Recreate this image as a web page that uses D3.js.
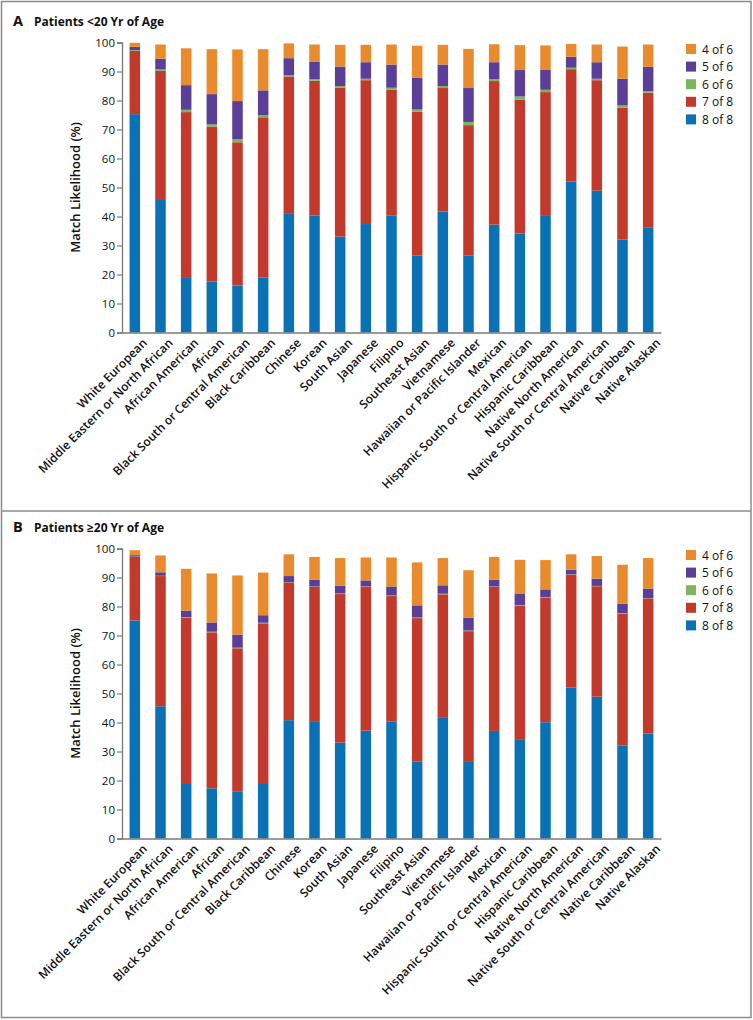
<!DOCTYPE html>
<html><head><meta charset="utf-8">
<script src="https://cdn.jsdelivr.net/npm/d3@7"></script>
<style>
html,body{margin:0;padding:0;background:#fff;}
svg{display:block;}
</style></head>
<body>
<svg id="chart" width="753" height="1020"></svg>
<script>
const categories = ["White European","Middle Eastern or North African","African American","African","Black South or Central American","Black Caribbean","Chinese","Korean","South Asian","Japanese","Filipino","Southeast Asian","Vietnamese","Hawaiian or Pacific Islander","Mexican","Hispanic South or Central American","Hispanic Caribbean","Native North American","Native South or Central American","Native Caribbean","Native Alaskan"];
const seriesNames = ["8 of 8","7 of 8","6 of 6","5 of 6","4 of 6"];
const seriesColors = ["#0a71b4","#c13a2b","#7db55e","#5b3e98","#e98b2d"];
const yTicks = [0,10,20,30,40,50,60,70,80,90,100];

// Panel A: patients <20 yr
const a8of8 = [75.3,45.7,19.1,17.6,16.2,18.9,40.9,40.3,33.1,37.4,40.4,26.6,41.7,26.5,37.2,34.1,40.2,52.1,48.9,32.1,36.3];
const a7of8 = [21.8,44.5,56.9,53.4,49.4,55.3,47.4,46.5,51.4,49.6,43.3,49.5,42.6,45.0,49.5,46.2,42.7,38.7,38.1,45.4,46.4];
const a6of6 = [0.3,0.5,0.8,0.8,1.0,0.7,0.4,0.6,0.5,0.5,0.7,0.8,0.7,1.1,0.7,1.1,0.8,0.5,0.5,0.8,0.5];
const a5of6 = [1.1,3.7,8.5,10.4,13.2,8.6,5.9,5.9,6.7,5.7,8.0,11.0,7.4,11.7,5.8,9.1,7.0,3.8,5.7,9.2,8.4];
const a4of6 = [1.4,4.9,12.7,15.5,17.8,14.2,5.1,6.0,7.5,6.0,6.9,11.0,6.8,13.5,6.2,8.6,8.3,4.4,6.1,11.1,7.7];

// Panel B: patients >=20 yr
const b8of8 = [75.2,45.6,18.8,17.3,16.1,18.8,40.8,40.2,33.1,37.2,40.4,26.5,41.6,26.4,37.1,34.0,40.1,52.1,48.9,32.0,36.2];
const b7of8 = [21.9,44.9,57.3,53.8,49.5,55.4,47.5,46.6,51.2,49.7,43.2,49.5,42.6,45.1,49.7,46.3,42.9,38.9,38.1,45.5,46.6];
const b6of6 = [0.1,0.1,0.2,0.2,0.2,0.2,0.1,0.1,0.2,0.1,0.2,0.2,0.2,0.2,0.1,0.2,0.2,0.1,0.1,0.2,0.1];
const b5of6 = [0.5,1.2,2.3,3.2,4.5,2.6,2.1,2.3,2.6,2.0,3.1,4.2,2.9,4.4,2.3,3.8,2.7,1.6,2.5,3.2,3.3];
const b4of6 = [1.7,5.8,14.4,16.9,20.4,14.7,7.5,7.9,9.6,7.9,10.0,14.8,9.4,16.4,7.9,11.8,10.1,5.3,7.8,13.5,10.5];

const svg = d3.select("#chart");
const FONT = "'Open Sans', sans-serif";

// frame
svg.append("rect").attr("x",1.5).attr("y",1.5).attr("width",749.5).attr("height",1016)
  .attr("fill","none").attr("stroke","#8c8c8c").attr("stroke-width",1.5);
svg.append("line").attr("x1",1.5).attr("x2",751).attr("y1",511).attr("y2",511)
  .attr("stroke","#8c8c8c").attr("stroke-width",1.5);

const x = d3.scaleBand().domain(categories).range([122,661]).paddingInner(0.59).paddingOuter(0.295);

function drawPanel(offset, letter, title, segs){
  const g = svg.append("g").attr("transform",`translate(0,${offset})`);
  const y = d3.scaleLinear().domain([0,100]).range([332.5,42.5]);

  g.append("text").attr("x",13).attr("y",25.5).attr("font-family",FONT).attr("font-weight",700)
    .attr("font-size",14.5).attr("fill","#111").text(letter);
  g.append("text").attr("x",34).attr("y",25.5).attr("font-family",FONT).attr("font-weight",700)
    .attr("font-size",12).attr("fill","#111").text(title);

  const rows = categories.map((c,i)=>{
    const o = {cat:c};
    seriesNames.forEach((s,k)=>o[s]=segs[k][i]);
    return o;
  });
  const stack = d3.stack().keys(seriesNames)(rows);
  g.selectAll("g.series").data(stack).join("g").attr("class","series")
    .attr("fill",(d,k)=>seriesColors[k])
    .selectAll("rect").data(d=>d).join("rect")
    .attr("x",d=>x(d.data.cat)).attr("width",x.bandwidth())
    .attr("y",d=>y(d[1])).attr("height",d=>y(d[0])-y(d[1]));

  // y axis
  const ya = g.append("g").attr("transform","translate(122,0)")
    .call(d3.axisLeft(y).tickValues(yTicks).tickSize(5).tickPadding(2).tickFormat(d3.format("d")));
  ya.select(".domain").attr("stroke","#7a7a7a").attr("stroke-width",1.3);
  ya.selectAll(".tick line").attr("stroke","#7a7a7a").attr("stroke-width",1.2);
  ya.selectAll(".tick text").attr("font-family",FONT).attr("font-size",11.5).attr("fill","#111");

  // x axis
  const xa = g.append("g").attr("transform","translate(0,332.5)")
    .call(d3.axisBottom(x).tickSize(0).tickSizeOuter(0).tickPadding(0));
  xa.select(".domain").attr("stroke","#7a7a7a").attr("stroke-width",1.5);
  xa.selectAll(".tick text").attr("font-family",FONT).attr("font-size",12).attr("font-weight",600)
    .attr("fill","#111").attr("text-anchor","end")
    .attr("transform","translate(8,6) rotate(-45)").attr("dy","0.6em").attr("y",0);

  g.append("text").attr("transform","translate(80,187.5) rotate(-90)").attr("text-anchor","middle")
    .attr("font-family",FONT).attr("font-weight",600).attr("font-size",13).attr("fill","#111")
    .text("Match Likelihood (%)");

  // legend (top to bottom: 4 of 6 ... 8 of 8)
  const legOrder = seriesNames.map((s,k)=>({s,c:seriesColors[k]})).reverse();
  const lg = g.selectAll("g.leg").data(legOrder).join("g").attr("class","leg")
    .attr("transform",(d,i)=>`translate(686,${44+i*17.6})`);
  lg.append("rect").attr("width",10).attr("height",10).attr("fill",d=>d.c);
  lg.append("text").attr("x",16).attr("y",9.5).attr("font-family",FONT).attr("font-size",12)
    .attr("fill","#111").text(d=>d.s);
}

drawPanel(0,"A","Patients <20 Yr of Age",[a8of8,a7of8,a6of6,a5of6,a4of6]);
drawPanel(506,"B","Patients \u226520 Yr of Age",[b8of8,b7of8,b6of6,b5of6,b4of6]);
</script>
</body></html>
